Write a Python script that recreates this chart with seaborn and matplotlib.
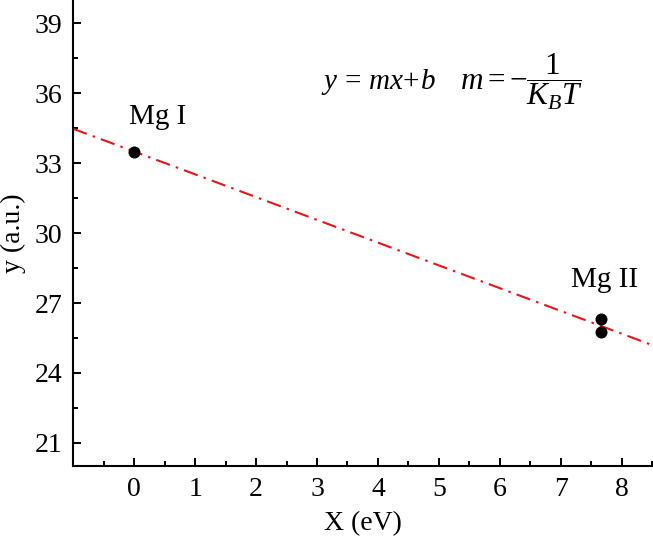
import numpy as np
import pandas as pd
import matplotlib
matplotlib.use("Agg")
import matplotlib.pyplot as plt
import seaborn as sns
from matplotlib.ticker import MultipleLocator

# Data
energy_ev = [0.0, 7.65, 7.65]
y_values = [33.5, 26.3, 25.75]
species_labels = ["Mg I", "Mg II"]
label_x = [0.39, 7.72]
label_y = [35.0, 27.98]
x_ticks = [0, 1, 2, 3, 4, 5, 6, 7, 8]
y_ticks = [21, 24, 27, 30, 33, 36, 39]

sns.set_style("ticks")
plt.rcParams["font.family"] = ["Liberation Serif", "DejaVu Serif"]
plt.rcParams["mathtext.fontset"] = "custom"
plt.rcParams["mathtext.rm"] = "Liberation Serif"
plt.rcParams["mathtext.it"] = "Liberation Serif:italic"
plt.rcParams["mathtext.bf"] = "Liberation Serif:bold"
plt.rcParams["text.color"] = "black"
plt.rcParams["axes.labelcolor"] = "black"
plt.rcParams["xtick.color"] = "black"
plt.rcParams["ytick.color"] = "black"

fig = plt.figure(figsize=(6.53, 5.39), dpi=100)
ax = fig.add_axes([0.112, 0.135, 0.887, 0.865])

df = pd.DataFrame({"x": energy_ev, "y": y_values})

xlim = (-1.0, 8.5)
ylim = (20.0, 40.0)

# Linear fit
m, b = np.polyfit(df["x"], df["y"], 1)
xfit = np.array(xlim)
fit_df = pd.DataFrame({"x": xfit, "y": m * xfit + b})
sns.lineplot(data=fit_df, x="x", y="y", ax=ax, color="#e8141a", lw=1.5,
             linestyle=(0, (7, 3, 1.2, 3)), zorder=2)

sns.scatterplot(data=df, x="x", y="y", ax=ax, color="black", s=75,
                edgecolor="black", linewidth=0, zorder=3)

for lab, lx, ly in zip(species_labels, label_x, label_y):
    ax.text(lx, ly, lab, fontsize=21, ha="center", va="center", color="black")

ax.text(4.0, 36.5, r"$y\,=\,mx\!+\!b$", fontsize=21, ha="center", va="center",
        color="black")
ax.text(6.36, 36.5, r"$m=-\dfrac{1}{K_BT}$", fontsize=22.5, ha="center",
        va="center", color="black")

ax.set_xlim(*xlim)
ax.set_ylim(*ylim)
ax.set_xticks(x_ticks)
ax.xaxis.set_minor_locator(MultipleLocator(0.5))
ax.set_yticks(y_ticks)
ax.yaxis.set_minor_locator(MultipleLocator(1.5))

for side in ["top", "right"]:
    ax.spines[side].set_visible(False)
for side in ["left", "bottom"]:
    ax.spines[side].set_linewidth(1.5)
    ax.spines[side].set_color("black")

ax.tick_params(which="major", direction="in", length=6, width=1.4, labelsize=20,
               colors="black", pad=8)
ax.tick_params(which="minor", direction="in", length=3.5, width=1.4, colors="black")

ax.set_xlabel("X (eV)", fontsize=20, labelpad=6, color="black")
ax.set_ylabel("y (a.u.)", fontsize=20, labelpad=6, color="black")

fig.savefig("out.png", dpi=100)
